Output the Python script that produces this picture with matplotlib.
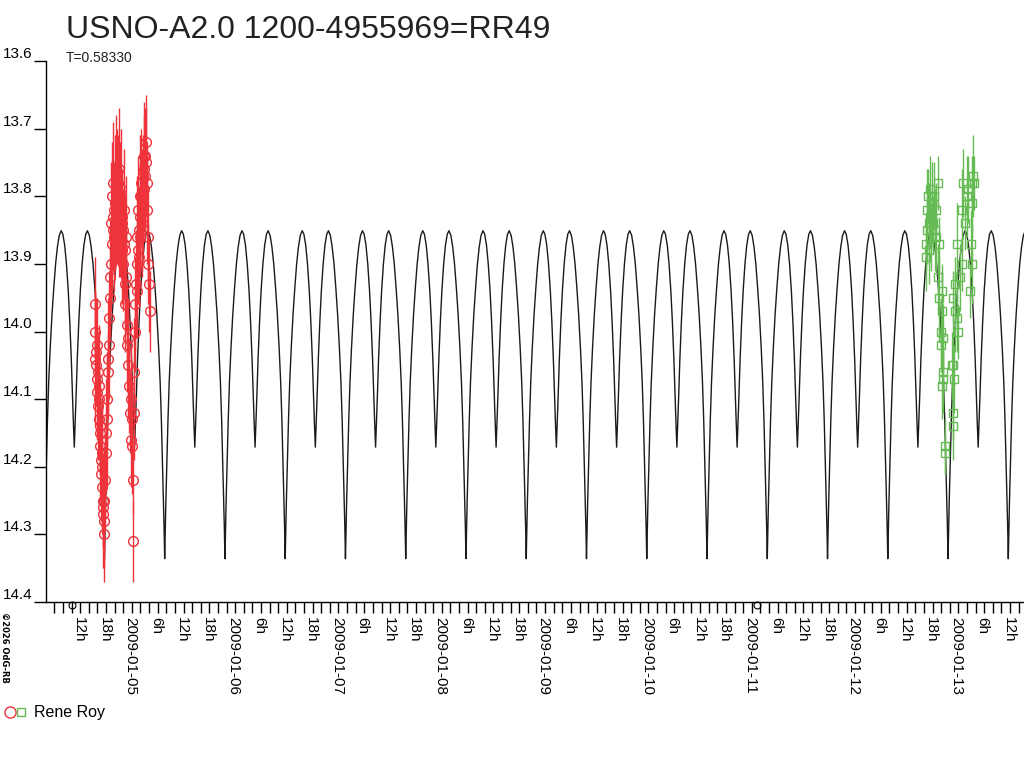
import matplotlib
matplotlib.use("Agg")
import matplotlib.pyplot as plt
import numpy as np
from matplotlib.lines import Line2D
from matplotlib.legend_handler import HandlerTuple
from matplotlib.ticker import FixedLocator

plt.rcParams["font.family"] = ["Liberation Sans", "DejaVu Sans"]

TITLE = "USNO-A2.0 1200-4955969=RR49"
PERIOD = 0.58330          # days
T0 = -0.1825              # primary minimum, days from 2009-01-05 00:00

# one cycle of the model light curve (phase 0..0.5, mirrored for 0.5..1)
model_phase = [0.000, 0.010, 0.020, 0.035, 0.055, 0.075, 0.100, 0.130, 0.160,
               0.190, 0.220, 0.250, 0.282, 0.310, 0.340, 0.370, 0.400, 0.425,
               0.450, 0.470, 0.485, 0.500]
model_mag = [14.336, 14.290, 14.250, 14.200, 14.130, 14.075, 14.025, 13.975,
             13.935, 13.900, 13.875, 13.858, 13.851, 13.856, 13.872, 13.900,
             13.940, 13.985, 14.040, 14.095, 14.135, 14.171]

# night 1: hours from 2009-01-05 00:00
red_hours = [-6.6, -6.5, -6.4, -6.3, -6.2, -6.1, -6.0, -5.9, -5.8, -5.7, -5.6,
             -5.5, -5.4, -5.3, -5.2, -5.1, -5.0, -4.9, -4.8, -4.7, -4.6, -4.5,
             -4.4, -4.2, -4.0, -3.9, -3.7, -3.6, -3.4, -3.3, -3.1, -3.0, -2.8,
             -2.7, -2.5, -2.4, -2.2, -2.1, -1.9, -1.8, -1.6, -1.5, -1.3, -1.2,
             -1.0, -0.9, -0.7, -0.6, -0.4, -0.3, -0.1, 0.0, 0.2, 0.3, 0.5, 0.6,
             0.8, 0.9, 1.1, 1.2, 1.4, 1.5, 1.7, 1.8, 2.0, 2.1, 2.2, 2.3, 2.4,
             2.5, 2.7, 2.8, 3.0, 3.1, 3.3, 3.4, 3.6, 3.7, 3.9, 4.0, 4.2, 4.3,
             4.5, 4.6, 4.8, 4.9, 5.1, 5.2, 5.4, 5.5, 5.7, 5.8, 6.0, 6.1,
             -2.9, -2.6, -2.3, -2.0, -1.7, -1.4, -1.1, -0.8, -0.5, -0.2, 0.1,
             0.4, 0.7, 3.2, 3.5, 3.8, 4.1, 4.4, 4.7, 5.0, 5.3, -3.5, -3.8,
             -6.55, -5.75, -5.05, -4.55]
red_mag = [13.96, 14.00, 14.03, 14.05, 14.02, 14.07, 14.09, 14.06, 14.11, 14.13,
           14.10, 14.15, 14.17, 14.14, 14.19, 14.21, 14.18, 14.23, 14.25, 14.27,
           14.26, 14.28, 14.25, 14.22, 14.18, 14.15, 14.10, 14.06, 14.02, 13.98,
           13.95, 13.92, 13.90, 13.87, 13.85, 13.83, 13.86, 13.82, 13.84, 13.80,
           13.83, 13.79, 13.82, 13.78, 13.81, 13.84, 13.80, 13.86, 13.83, 13.88,
           13.85, 13.90, 13.87, 13.93, 13.96, 13.92, 13.99, 14.02, 14.05, 14.01,
           14.08, 14.12, 14.10, 14.16, 14.13, 14.17, 14.22, 14.31, 14.12, 14.06,
           14.00, 13.96, 13.93, 13.90, 13.94, 13.88, 13.85, 13.89, 13.83, 13.86,
           13.80, 13.84, 13.77, 13.81, 13.76, 13.79, 13.74, 13.72, 13.78, 13.82,
           13.86, 13.90, 13.93, 13.97,
           13.84, 13.80, 13.78, 13.81, 13.77, 13.80, 13.76, 13.82, 13.79, 13.84,
           13.82, 13.88, 13.86, 13.86, 13.82, 13.80, 13.78, 13.82, 13.74, 13.77,
           13.75, 14.04, 14.13, 14.04, 14.08, 14.20, 14.30]
red_err = [0.07, 0.06, 0.08, 0.06, 0.07, 0.05, 0.07, 0.06, 0.08, 0.06, 0.07,
           0.06, 0.08, 0.07, 0.06, 0.07, 0.08, 0.06, 0.07, 0.08, 0.06, 0.07,
           0.08, 0.07, 0.06, 0.08, 0.07, 0.06, 0.08, 0.07, 0.06, 0.08, 0.07,
           0.08, 0.06, 0.07, 0.08, 0.07, 0.06, 0.08, 0.07, 0.06, 0.08, 0.07,
           0.06, 0.08, 0.07, 0.06, 0.07, 0.08, 0.06, 0.07, 0.08, 0.06, 0.07,
           0.08, 0.06, 0.07, 0.08, 0.06, 0.07, 0.06, 0.08, 0.07, 0.06, 0.07,
           0.05, 0.06, 0.07, 0.08, 0.06, 0.07, 0.08, 0.06, 0.07, 0.08, 0.06,
           0.07, 0.08, 0.06, 0.07, 0.08, 0.06, 0.07, 0.08, 0.06, 0.07, 0.07,
           0.06, 0.08, 0.07, 0.06, 0.07, 0.06,
           0.09, 0.08, 0.09, 0.10, 0.09, 0.10, 0.09, 0.10, 0.09, 0.08, 0.09,
           0.08, 0.09, 0.09, 0.08, 0.09, 0.08, 0.09, 0.08, 0.09, 0.08, 0.09,
           0.10, 0.10, 0.09, 0.10, 0.07]

# night 2: hours from 2009-01-13 00:00
green_hours = [-5.6, -5.4, -5.3, -5.2, -5.0, -4.9, -4.7, -4.6, -4.5, -4.3, -4.1,
               -3.9, -3.7, -3.5, -3.3, -3.1, -2.8, -2.65, -2.45, -2.4, -2.1,
               -2.0, -1.85, -1.85, -1.75, -1.6, -1.5, -1.45, -1.1, -1.05, 0.45,
               0.7, 0.75, 0.85, 0.85, 1.0, 1.2, 1.25, 1.6, 1.65, 2.0, 2.4, 2.8,
               2.8, 3.15, 3.55, 4.1, 4.3, 4.7, 4.9, 5.1, 5.1, 5.15, 5.3, 5.6]
green_mag = [13.89, 13.87, 13.82, 13.85, 13.80, 13.88, 13.84, 13.83, 13.79,
             13.86, 13.81, 13.84, 13.80, 13.85, 13.82, 13.86, 13.78, 13.92,
             13.95, 13.87, 14.00, 14.02, 13.97, 14.08, 13.94, 14.01, 14.06,
             14.07, 14.17, 14.18, 14.05, 14.12, 14.14, 14.05, 13.95, 14.07,
             13.97, 13.93, 13.98, 13.87, 14.00, 13.92, 13.90, 13.82, 13.78,
             13.84, 13.80, 13.79, 13.94, 13.87, 13.90, 13.78, 13.81, 13.77, 13.78]
green_err = [0.05, 0.04, 0.06, 0.05, 0.04, 0.05, 0.06, 0.04, 0.05, 0.05, 0.06,
             0.04, 0.05, 0.06, 0.04, 0.05, 0.04, 0.05, 0.06, 0.04, 0.05, 0.04,
             0.06, 0.05, 0.04, 0.05, 0.06, 0.04, 0.04, 0.03, 0.05, 0.04, 0.05,
             0.06, 0.04, 0.05, 0.06, 0.04, 0.05, 0.06, 0.04, 0.05, 0.04, 0.06,
             0.05, 0.04, 0.06, 0.05, 0.04, 0.05, 0.06, 0.04, 0.05, 0.06, 0.04]

# small markers sitting on the time axis (days from 2009-01-05)
axis_marks = [-0.497, 6.135]

RED = "#ee333b"
GREEN = "#66bb55"
X_MIN, X_MAX = -0.748, 8.719

fig = plt.figure(figsize=(10.24, 7.68), dpi=100)
ax = fig.add_axes([46 / 1024, 1 - 602 / 768, (1024 - 46) / 1024, (602 - 61) / 768])

# model curve, repeated cycle by cycle with the period
ph = model_phase + [1 - p for p in reversed(model_phase[:-1])]
mg = model_mag + list(reversed(model_mag[:-1]))
mt, mm = [], []
for k in range(-3, 18):
    mt += [T0 + (k + p) * PERIOD for p in ph]
    mm += mg
ax.plot(mt, mm, color="#1a1a1a", lw=1.0, zorder=2)

red_t = np.array(red_hours) / 24
green_t = 8 + np.array(green_hours) / 24
ax.errorbar(red_t, red_mag, yerr=red_err, fmt="o", mfc="none", mec=RED,
            ecolor=RED, elinewidth=1, ms=7, mew=1, capsize=0, zorder=3)
ax.errorbar(green_t, green_mag, yerr=green_err, fmt="s", mfc="none", mec=GREEN,
            ecolor=GREEN, elinewidth=1, ms=5.5, mew=1, capsize=0, zorder=3)
ax.plot(axis_marks, [14.405] * len(axis_marks), "o", mfc="none", mec="black",
        ms=5, mew=0.8, clip_on=False, zorder=1)

ax.set_xlim(X_MIN, X_MAX)
ax.set_ylim(14.4, 13.6)

for s in ("top", "right"):
    ax.spines[s].set_visible(False)
for s in ("left", "bottom"):
    ax.spines[s].set_linewidth(1)

# y axis: labels sit on top of the tick lines
ax.set_yticks(np.round(np.arange(13.6, 14.41, 0.1), 1))
ax.set_yticklabels([f"{v:.1f}" for v in np.arange(13.6, 14.41, 0.1)])
ax.tick_params(axis="y", direction="out", length=9, width=1, pad=1, labelsize=11)
plt.setp(ax.get_yticklabels(), va="bottom")

# x axis: ticks every 2 h, labels every 6 h
major = [h / 4 for h in range(-3, 36) if X_MIN <= h / 4 <= X_MAX]
labels = []
for d in major:
    day = int(np.floor(d + 1e-9))
    hour = int(round((d - day) * 24))
    labels.append(f"2009-01-{5 + day:02d}" if hour == 0 else f"{hour}h")
ax.xaxis.set_major_locator(FixedLocator(major))
ax.set_xticklabels(labels, rotation=270, ha="left", va="top")
minor = [h / 12 for h in range(-9, 106) if X_MIN <= h / 12 <= X_MAX]
ax.xaxis.set_minor_locator(FixedLocator(minor))
ax.tick_params(axis="x", which="both", direction="out", length=8, width=1,
               pad=3, labelsize=11)

fig.text(66 / 1024, 1 - 30 / 768, TITLE, fontsize=23, va="center", ha="left",
         color="#222222")
fig.text(66 / 1024, 1 - 58 / 768, "T=0.58330", fontsize=10, va="center",
         ha="left", color="#222222")
fig.text(0, 1 - 612 / 768, "©2026 OdG-RB", fontsize=6, rotation=270,
         va="top", ha="left", fontweight="bold", family="DejaVu Sans")

h_red = Line2D([], [], marker="o", ls="none", mfc="none", mec=RED, ms=8, mew=1)
h_green = Line2D([], [], marker="s", ls="none", mfc="none", mec=GREEN, ms=6, mew=1)
fig.legend([(h_red, h_green)], ["Rene Roy"],
           handler_map={tuple: HandlerTuple(ndivide=None, pad=0.0)},
           loc="center left", bbox_to_anchor=(4 / 1024, 1 - 713 / 768),
           frameon=False, fontsize=11.5, handlelength=1.4, handletextpad=0.5,
           borderaxespad=0, borderpad=0)

fig.savefig("out.png", dpi=100)
